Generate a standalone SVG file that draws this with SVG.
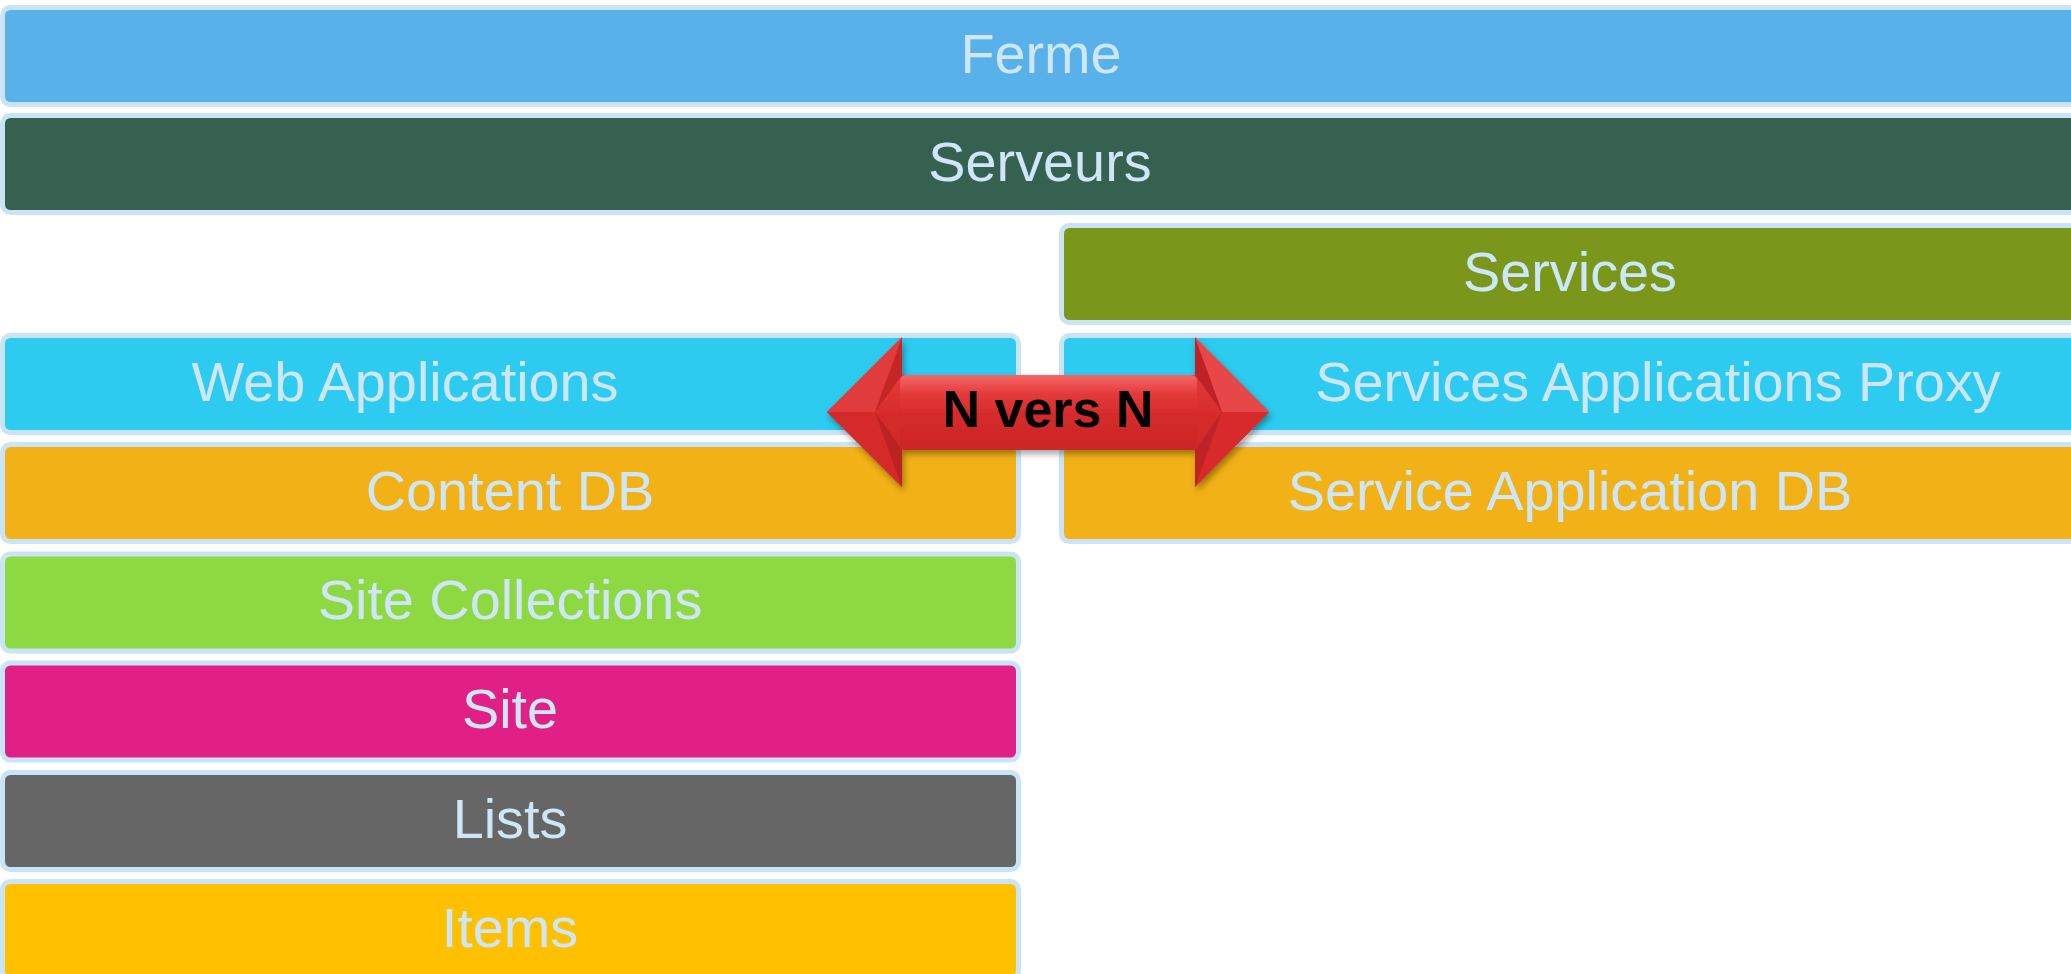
<svg xmlns="http://www.w3.org/2000/svg" width="2071" height="974" viewBox="0 0 2071 974">
<defs>
<style>
.box{stroke:#C9E4F7;stroke-width:5}
.lbl{font-family:"Liberation Sans",Arial,sans-serif;font-size:55.8px;fill:#CDE7F8;text-anchor:middle}
.arrtxt{font-family:"Liberation Sans",Arial,sans-serif;font-size:52px;font-weight:bold;fill:#000;text-anchor:middle}
</style>
<linearGradient id="shaft" x1="0" y1="0" x2="0" y2="1">
<stop offset="0" stop-color="#F56868"/>
<stop offset="0.25" stop-color="#E43A3A"/>
<stop offset="0.55" stop-color="#D42A2A"/>
<stop offset="1" stop-color="#CC2626"/>
</linearGradient>
<filter id="sh" x="-10%" y="-20%" width="120%" height="150%">
<feDropShadow dx="2" dy="4" stdDeviation="3" flood-color="#000" flood-opacity="0.35"/>
</filter>
</defs>
<rect width="2071" height="974" fill="#FFFFFF"/>
<g id="ferme"><rect class="box" x="2.5" y="7.5" width="2080" height="97" rx="8" fill="#58B1E8"/><text class="lbl" x="1041" y="73">Ferme</text></g>
<g id="serveurs"><rect class="box" x="2.5" y="115.5" width="2080" height="97" rx="8" fill="#366150"/><text class="lbl" x="1040" y="181">Serveurs</text></g>
<g id="services"><rect class="box" x="1061.5" y="225.5" width="1020" height="97" rx="8" fill="#7A971B"/><text class="lbl" x="1570" y="291">Services</text></g>
<g id="webapps"><rect class="box" x="2.5" y="335.5" width="1016" height="97" rx="8" fill="#2DCBEF"/><text class="lbl" x="405" y="401">Web Applications</text></g>
<g id="proxy"><rect class="box" x="1061.5" y="335.5" width="1020" height="97" rx="8" fill="#2DCBEF"/><text class="lbl" x="1658" y="401">Services Applications Proxy</text></g>
<g id="contentdb"><rect class="box" x="2.5" y="444.5" width="1016" height="97" rx="8" fill="#F2B116"/><text class="lbl" x="510" y="510">Content DB</text></g>
<g id="serviceappdb"><rect class="box" x="1061.5" y="444.5" width="1020" height="97" rx="8" fill="#F2B116"/><text class="lbl" x="1570" y="510">Service Application DB</text></g>
<g id="sitecollections"><rect class="box" x="2.5" y="554" width="1016" height="97" rx="8" fill="#8ED841"/><text class="lbl" x="510" y="619">Site Collections</text></g>
<g id="site"><rect class="box" x="2.5" y="663" width="1016" height="97" rx="8" fill="#E02085"/><text class="lbl" x="510" y="728">Site</text></g>
<g id="lists"><rect class="box" x="2.5" y="772.5" width="1016" height="97" rx="8" fill="#666666"/><text class="lbl" x="510" y="838">Lists</text></g>
<g id="items"><rect class="box" x="2.5" y="881.5" width="1016" height="97" rx="8" fill="#FFC000"/><text class="lbl" x="510" y="947">Items</text></g>
<g id="connectors">
<g id="arrow-nvn" filter="url(#sh)">
<polygon points="827,412 902,337 902,375 1195,375 1195,337 1269,412 1195,487 1195,450 902,450 902,487" fill="url(#shaft)"/>
<polygon points="827,412 902,337 875,412" fill="#E23A3C"/>
<polygon points="902,337 902,375 875,412" fill="#C42628"/>
<polygon points="827,412 875,412 902,487" fill="#D42A2A"/>
<polygon points="875,412 902,450 902,487" fill="#BC2224"/>
<polygon points="1269,412 1195,337 1222,412" fill="#E8464A"/>
<polygon points="1195,337 1195,375 1222,412" fill="#BE2426"/>
<polygon points="1269,412 1222,412 1195,487" fill="#D82C2C"/>
<polygon points="1222,412 1195,450 1195,487" fill="#C02426"/>
<rect x="900" y="375" width="297" height="75" rx="6" fill="url(#shaft)"/>
</g>
<text class="arrtxt" x="1048" y="427">N vers N</text>
</g>
</svg>
